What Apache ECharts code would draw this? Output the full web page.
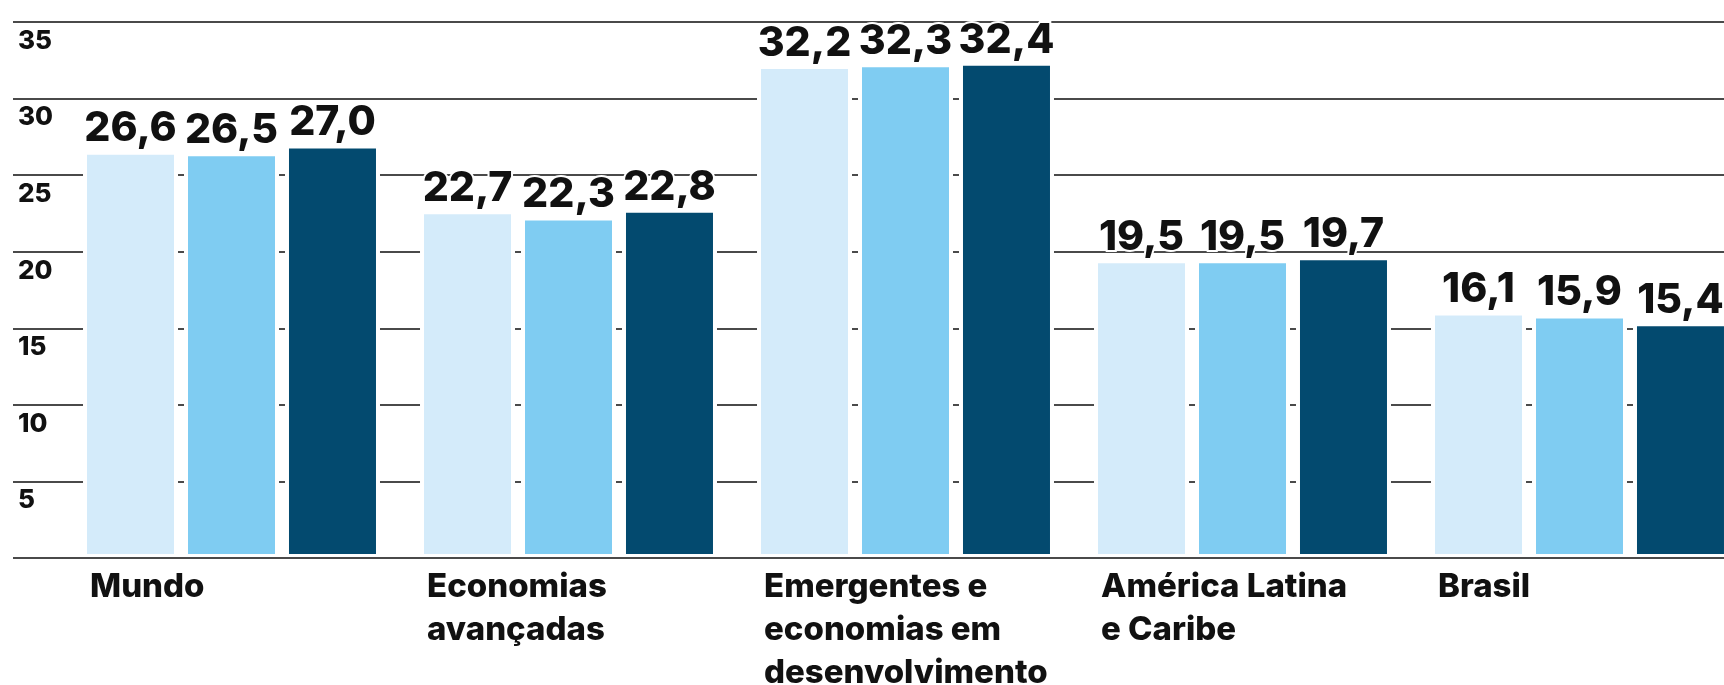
<!DOCTYPE html>
<html><head><meta charset="utf-8">
<script src="https://cdn.jsdelivr.net/npm/echarts@6/dist/echarts.min.js"></script>
<style>html,body{margin:0;padding:0;background:#fff}#c{width:1724px;height:685px}</style>
</head><body><div id="c"></div>
<script>
const categories = ['Mundo', 'Economias\navançadas', 'Emergentes e\neconomias em\ndesenvolvimento', 'América Latina\ne Caribe', 'Brasil'];
const seriesNames = ['Série 1', 'Série 2', 'Série 3'];
const values1 = [26.6, 22.7, 32.2, 19.5, 16.1];
const values2 = [26.5, 22.3, 32.3, 19.5, 15.9];
const values3 = [27.0, 22.8, 32.4, 19.7, 15.4];
const colors = ['#d4ebfa', '#7fccf2', '#034a6f'];

const FONT = 'Inter';
const chart = echarts.init(document.getElementById('c'), null, {renderer: 'canvas'});

function mkSeries(name, data, color) {
  return {
    name: name, type: 'bar', xAxisIndex: 1, yAxisIndex: 1, data: data,
    barWidth: 95, barGap: '6.3%',
    itemStyle: {color: color, borderColor: '#fff', borderWidth: 4},
    label: {
      show: true, position: 'top', distance: 1,
      formatter: p => p.value.toFixed(1).replace('.', ','),
      fontFamily: FONT, fontWeight: 800, fontSize: 41, color: '#111',
      textBorderColor: '#fff', textBorderWidth: 4
    }
  };
}

chart.setOption({
  animation: false,
  backgroundColor: '#fff',
  grid: [
    {left: 13, right: 0, top: 22, bottom: 127, outerBoundsMode: 'none', containLabel: false},
    {left: 63, width: 1685, top: 22, bottom: 127, outerBoundsMode: 'none', containLabel: false}
  ],
  xAxis: [
    {gridIndex: 0, type: 'value', show: false},
    {gridIndex: 1, type: 'category', data: categories, z: 5,
     axisLine: {show: true, lineStyle: {color: '#4a4a4a', width: 2}},
     axisTick: {show: false},
     axisLabel: {
       interval: 0, margin: 8,
       formatter: v => v.split('\n').map(s => '{a|' + s + '}').join('\n'),
       rich: {a: {width: 283, align: 'left', fontFamily: FONT, fontWeight: 800, fontSize: 33, lineHeight: 43, color: '#111'}}
     }}
  ],
  yAxis: [
    {gridIndex: 0, type: 'value', min: 0, max: 35, interval: 5,
     axisLine: {show: false}, axisTick: {show: false},
     splitLine: {show: true, lineStyle: {color: '#4a4a4a', width: 2}},
     axisLabel: {inside: true, showMinLabel: false, margin: 5, verticalAlign: 'top', padding: [6, 0, 0, 0],
       fontFamily: FONT, fontWeight: 800, fontSize: 26, color: '#111'}},
    {gridIndex: 1, type: 'value', min: 0, max: 35, interval: 5, show: false}
  ],
  series: [
    mkSeries(seriesNames[0], values1, colors[0]),
    mkSeries(seriesNames[1], values2, colors[1]),
    mkSeries(seriesNames[2], values3, colors[2])
  ]
});
</script></body></html>
